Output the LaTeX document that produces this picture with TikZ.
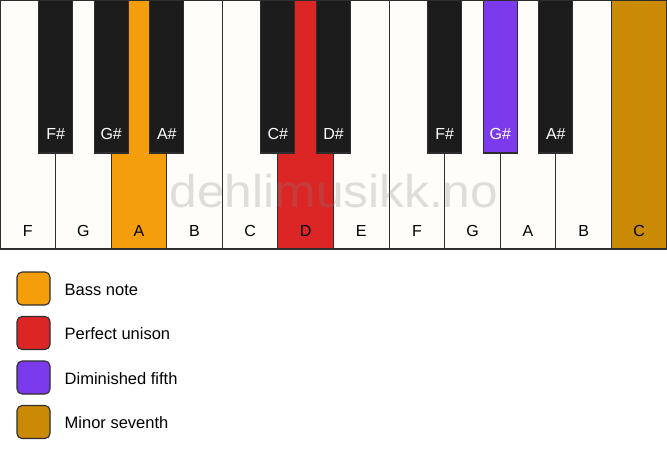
\documentclass[tikz,border=0pt]{standalone}
\usepackage{fontspec}
\setmainfont{Liberation Sans}
\definecolor{ivory}{HTML}{FFFDF9}
\definecolor{ebony}{HTML}{1C1C1C}
\definecolor{keyline}{HTML}{2E2E2E}
\definecolor{bassnote}{HTML}{F59E0B}
\definecolor{unison}{HTML}{DC2626}
\definecolor{dimfifth}{HTML}{7C3AED}
\definecolor{minseventh}{HTML}{CA8A04}

\begin{document}
\begin{tikzpicture}[x=1pt, y=-1pt,
	whitekey/.style={draw=keyline, line width=1.1pt, fill=ivory, minimum width=55.58pt, minimum height=249pt, inner sep=0pt,
		label={[anchor=base, yshift=13pt, font=\fontsize{16}{18}\selectfont]south:#1}},
	blackkey/.style={draw=keyline, line width=1.1pt, fill=ebony, minimum width=34pt, minimum height=153pt, inner sep=0pt,
		label={[anchor=base, yshift=14pt, text=white, font=\fontsize{16}{18}\selectfont]south:#1}},
	swatch/.style={draw=keyline, line width=1.1pt, rounded corners=5pt, minimum size=33pt, inner sep=0pt},
	legendtext/.style={anchor=base west, inner sep=0pt, font=\fontsize{16.5}{18}\selectfont}]
	\useasboundingbox (0,0) rectangle (667,461);
	\fill[white] (0,0) rectangle (667,461);
	\node[whitekey=F] (f1) at (27.8,124.5) {};
	\node[whitekey=G] (g1) at (83.4,124.5) {};
	\node[whitekey=A, fill=bassnote] (a1) at (139.0,124.5) {};
	\node[whitekey=B] (b1) at (194.5,124.5) {};
	\node[whitekey=C] (c1) at (250.1,124.5) {};
	\node[whitekey=D, fill=unison] (d1) at (305.7,124.5) {};
	\node[whitekey=E] (e1) at (361.3,124.5) {};
	\node[whitekey=F] (f2) at (416.9,124.5) {};
	\node[whitekey=G] (g2) at (472.5,124.5) {};
	\node[whitekey=A] (a2) at (528.0,124.5) {};
	\node[whitekey=B] (b2) at (583.6,124.5) {};
	\node[whitekey=C, fill=minseventh] (c2) at (639.2,124.5) {};
	\node[text=gray, text opacity=0.25, xscale=1.08, transform shape, anchor=base, font=\fontsize{46}{50}\selectfont] (mark) at (334,207.7) {dehlimusikk.no};
	\node[blackkey=F\#] (fis1) at (55.6,76.5) {};
	\node[blackkey=G\#] (gis1) at (111.2,76.5) {};
	\node[blackkey=A\#] (ais1) at (166.8,76.5) {};
	\node[blackkey=C\#] (cis1) at (277.9,76.5) {};
	\node[blackkey=D\#] (dis1) at (333.5,76.5) {};
	\node[blackkey=F\#] (fis2) at (444.7,76.5) {};
	\node[blackkey=G\#, fill=dimfifth] (gis2) at (500.3,76.5) {};
	\node[blackkey=A\#] (ais2) at (555.8,76.5) {};
	\node[swatch, fill=bassnote] (bass) at (33.5,288.5) {};
	\node[legendtext] (basstext) at (64.5,295.3) {Bass note};
	\node[swatch, fill=unison] (uni) at (33.5,333) {};
	\node[legendtext] (unitext) at (64.5,339.8) {Perfect unison};
	\node[swatch, fill=dimfifth] (dim) at (33.5,377.5) {};
	\node[legendtext] (dimtext) at (64.5,384.3) {Diminished fifth};
	\node[swatch, fill=minseventh] (sev) at (33.5,422) {};
	\node[legendtext] (sevtext) at (64.5,428.8) {Minor seventh};
\end{tikzpicture}
\end{document}
